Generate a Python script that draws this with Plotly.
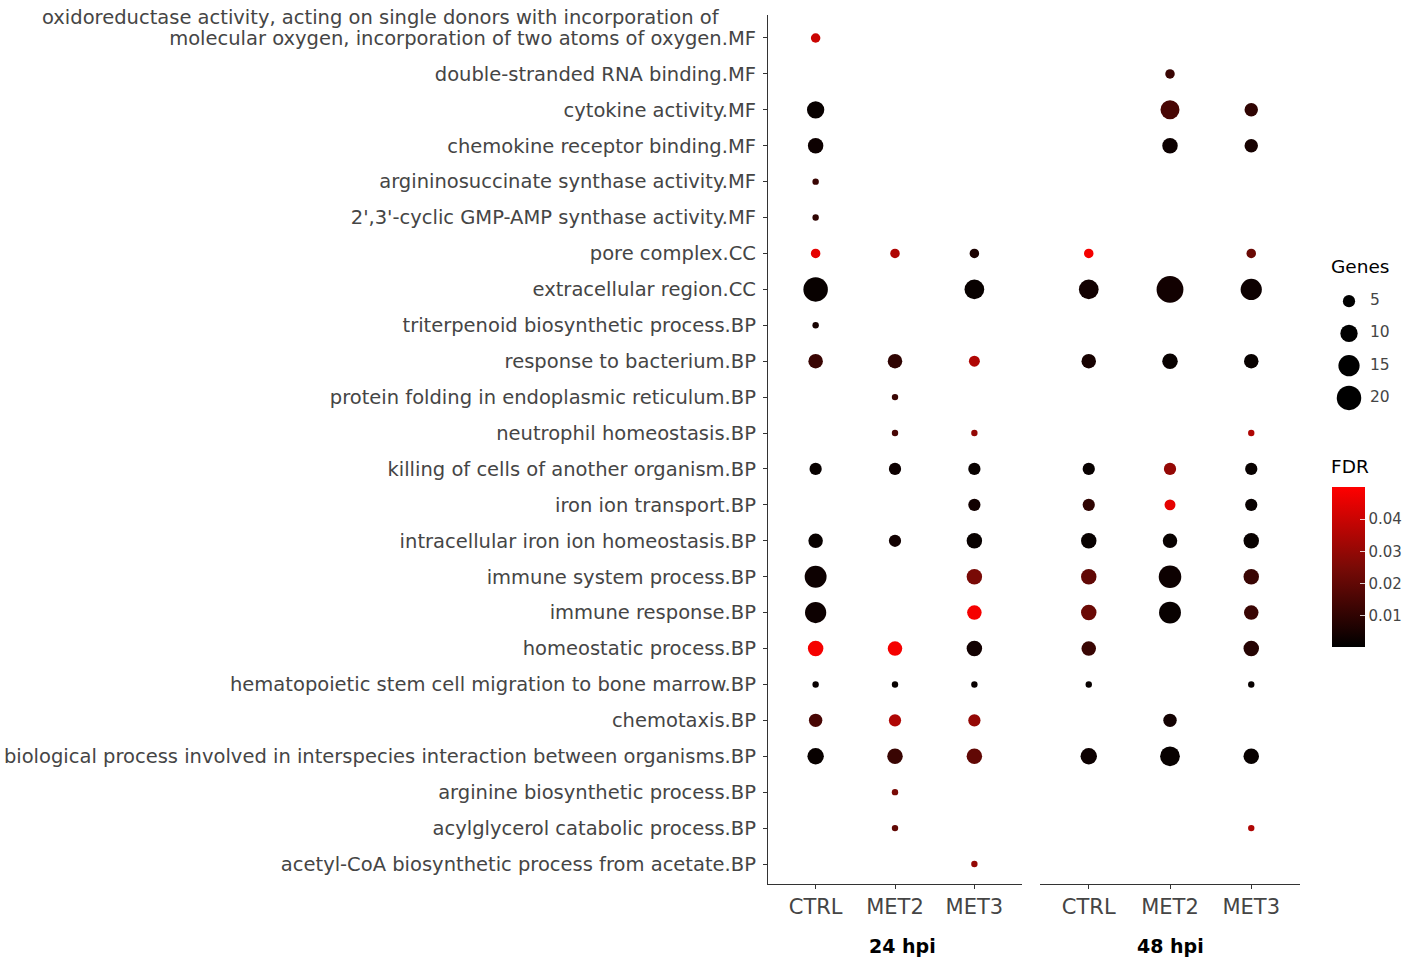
import plotly.graph_objects as go

# GO terms, top to bottom (first one wraps over two lines)
terms = [
    "oxidoreductase activity, acting on single donors with incorporation of<br>molecular oxygen, incorporation of two atoms of oxygen.MF",
    "double-stranded RNA binding.MF",
    "cytokine activity.MF",
    "chemokine receptor binding.MF",
    "argininosuccinate synthase activity.MF",
    "2',3'-cyclic GMP-AMP synthase activity.MF",
    "pore complex.CC",
    "extracellular region.CC",
    "triterpenoid biosynthetic process.BP",
    "response to bacterium.BP",
    "protein folding in endoplasmic reticulum.BP",
    "neutrophil homeostasis.BP",
    "killing of cells of another organism.BP",
    "iron ion transport.BP",
    "intracellular iron ion homeostasis.BP",
    "immune system process.BP",
    "immune response.BP",
    "homeostatic process.BP",
    "hematopoietic stem cell migration to bone marrow.BP",
    "chemotaxis.BP",
    "biological process involved in interspecies interaction between organisms.BP",
    "arginine biosynthetic process.BP",
    "acylglycerol catabolic process.BP",
    "acetyl-CoA biosynthetic process from acetate.BP",
]

groups = ["CTRL", "MET2", "MET3"]
N = None

# 24 hpi
genes_24_ctrl = [3, N, 10, 8, 1, 1, 3, 20, 1, 7, N, N, 5, N, 7, 16, 15, 8, 1, 6, 9, N, N, N]
fdr_24_ctrl = [0.040, N, 0.002, 0.003, 0.012, 0.010, 0.045, 0.002, 0.005, 0.012, N, N, 0.002, N,
               0.002, 0.003, 0.003, 0.048, 0.002, 0.015, 0.002, N, N, N]
genes_24_met2 = [N, N, N, N, N, N, 3, N, N, 7, 1, 1, 5, N, 5, N, N, 7, 1, 5, 8, 1, 1, N]
fdr_24_met2 = [N, N, N, N, N, N, 0.035, N, N, 0.010, 0.012, 0.015, 0.003, N, 0.004, N, N,
               0.048, 0.002, 0.035, 0.012, 0.025, 0.020, N]
genes_24_met3 = [N, N, N, N, N, N, 3, 13, N, 4, N, 1, 5, 5, 8, 8, 7, 8, 1, 5, 8, N, N, 1]
fdr_24_met3 = [N, N, N, N, N, N, 0.006, 0.002, N, 0.035, N, 0.030, 0.002, 0.004, 0.002, 0.025,
               0.048, 0.004, 0.002, 0.030, 0.020, N, N, 0.030]

# 48 hpi
genes_48_ctrl = [N, N, N, N, N, N, 3, 13, N, 7, N, N, 5, 5, 8, 8, 8, 7, 1, N, 9, N, N, N]
fdr_48_ctrl = [N, N, N, N, N, N, 0.048, 0.004, N, 0.005, N, N, 0.002, 0.010, 0.002, 0.020,
               0.022, 0.012, 0.002, N, 0.003, N, N, N]
genes_48_met2 = [N, 3, 12, 8, N, N, N, 24, N, 8, N, N, 5, 4, 7, 17, 16, N, N, 6, 13, N, N, N]
fdr_48_met2 = [N, 0.012, 0.015, 0.003, N, N, N, 0.004, N, 0.002, N, N, 0.030, 0.045, 0.002,
               0.003, 0.002, N, N, 0.004, 0.002, N, N, N]
genes_48_met3 = [N, N, 6, 6, N, N, 3, 15, N, 7, N, 1, 5, 5, 8, 8, 7, 8, 1, N, 8, N, 1, N]
fdr_48_met3 = [N, N, 0.010, 0.005, N, N, 0.022, 0.003, N, 0.002, N, 0.035, 0.002, 0.002, 0.002,
               0.012, 0.012, 0.008, 0.002, N, 0.002, N, 0.035, N]

size_legend = [5, 10, 15, 20]
fdr_ticks = [0.01, 0.02, 0.03, 0.04]

SIZEREF = 10 / 150.0
FONT = "DejaVu Sans, Liberation Sans, sans-serif"
GREY = "#454545"
LINE = "#333333"

panels = [
    ("x", [(genes_24_ctrl, fdr_24_ctrl), (genes_24_met2, fdr_24_met2), (genes_24_met3, fdr_24_met3)]),
    ("x2", [(genes_48_ctrl, fdr_48_ctrl), (genes_48_met2, fdr_48_met2), (genes_48_met3, fdr_48_met3)]),
]

fig = go.Figure()
for xa, cols in panels:
    for grp, (genes, fdr) in zip(groups, cols):
        xs, ys, ss, cs = [], [], [], []
        for t, g, f in zip(terms, genes, fdr):
            if g is None:
                continue
            xs.append(grp)
            ys.append(t)
            ss.append(g)
            cs.append(f)
        fig.add_trace(go.Scatter(
            x=xs, y=ys, xaxis=xa, yaxis="y", mode="markers",
            marker=dict(size=ss, sizemode="area", sizeref=SIZEREF, sizemin=3.2, color=cs,
                        coloraxis="coloraxis", opacity=1, line=dict(width=0)),
            showlegend=False,
        ))

# size legend (Genes)
fig.add_trace(go.Scatter(
    x=[19] * len(size_legend), y=[str(s) for s in size_legend], xaxis="x3", yaxis="y3",
    mode="markers", marker=dict(size=size_legend, sizemode="area", sizeref=SIZEREF,
                                color="black", opacity=1, line=dict(width=0)),
    showlegend=False, hoverinfo="skip",
))
fig.add_trace(go.Scatter(
    x=[40] * len(size_legend), y=[str(s) for s in size_legend], xaxis="x3", yaxis="y3",
    mode="text", text=[str(s) for s in size_legend], textposition="middle right",
    textfont=dict(size=15.5, color=GREY, family=FONT), showlegend=False, hoverinfo="skip",
))

W, H = 1417, 964
L, R, T, B = 768, 0, 15, 80
pw, ph = W - L - R, H - T - B


def fx(px):
    return (px - L) / pw


def fy(py):
    return (H - B - py) / ph


# tick text: only the last line of a wrapped term sits on the tick, first line goes above
ticktext = [t.split("<br>")[-1] for t in terms]

xcommon = dict(type="category", categoryorder="array", categoryarray=groups,
               range=[-0.6, 2.6], showline=True, linecolor=LINE, linewidth=1.3,
               ticks="outside", ticklen=4, tickcolor=LINE, showgrid=False,
               zeroline=False, automargin=False,
               tickfont=dict(size=21, color=GREY, family=FONT), anchor="y")

fig.update_layout(
    width=W, height=H,
    margin=dict(l=L, r=R, t=T, b=B),
    paper_bgcolor="white", plot_bgcolor="white",
    font=dict(family=FONT, color=GREY),
    xaxis=dict(domain=[0, fx(1022)], **xcommon),
    xaxis2=dict(domain=[fx(1040), fx(1300)], **xcommon),
    yaxis=dict(type="category", categoryorder="array", categoryarray=terms,
               tickvals=terms, ticktext=ticktext,
               range=[len(terms) - 1 + 0.557, -0.64], showline=True, linecolor=LINE,
               linewidth=1.3, ticks="outside", ticklen=4, tickcolor=LINE,
               showgrid=False, zeroline=False, anchor="x", automargin=False,
               ticklabelstandoff=3,
               tickfont=dict(size=19.5, color=GREY, family=FONT)),
    xaxis3=dict(domain=[fx(1330), fx(1400)], range=[0, 70], visible=False, anchor="y3"),
    yaxis3=dict(domain=[fy(414), fy(285)], type="category",
                categoryarray=[str(s) for s in size_legend], range=[3.5, -0.5],
                visible=False, anchor="x3"),
    coloraxis=dict(
        colorscale=[[0, "#000000"], [0.5, "#7a0a06"], [1, "#ff0000"]],
        cmin=0.0004, cmax=0.0499,
        colorbar=dict(
            x=fx(1332), xanchor="left", xref="paper",
            y=fy(567), yanchor="middle", len=160, lenmode="pixels",
            thickness=33, thicknessmode="pixels", outlinewidth=0,
            tickvals=fdr_ticks, ticktext=[f"{v:.2f}" for v in fdr_ticks],
            ticks="inside", ticklen=5, tickcolor="rgba(255,255,255,0.8)",
            tickfont=dict(size=15, color=GREY, family=FONT), xpad=0, ypad=0,
        ),
    ),
)

# first line of the wrapped label
fig.add_annotation(text=terms[0].split("<br>")[0], x=fx(722), xref="paper", xanchor="right",
                   y=fy(17), yref="paper", yanchor="middle", showarrow=False,
                   font=dict(size=19.5, color=GREY, family=FONT))
# legend titles
fig.add_annotation(text="Genes", x=fx(1329), xref="paper", xanchor="left", y=fy(266),
                   yref="paper", yanchor="middle", showarrow=False,
                   font=dict(size=18.5, color="black", family=FONT))
fig.add_annotation(text="FDR", x=fx(1329), xref="paper", xanchor="left", y=fy(466),
                   yref="paper", yanchor="middle", showarrow=False,
                   font=dict(size=18.5, color="black", family=FONT))
# facet strip labels below the panels
fig.add_annotation(text="<b>24 hpi</b>", x=fx(902), xref="paper", xanchor="center",
                   y=fy(946), yref="paper", yanchor="middle", showarrow=False,
                   font=dict(size=19, color="black", family=FONT))
fig.add_annotation(text="<b>48 hpi</b>", x=fx(1170), xref="paper", xanchor="center",
                   y=fy(946), yref="paper", yanchor="middle", showarrow=False,
                   font=dict(size=19, color="black", family=FONT))

fig.write_html("out.html", config={"displayModeBar": False},
               post_script="document.body.style.margin='0';")
